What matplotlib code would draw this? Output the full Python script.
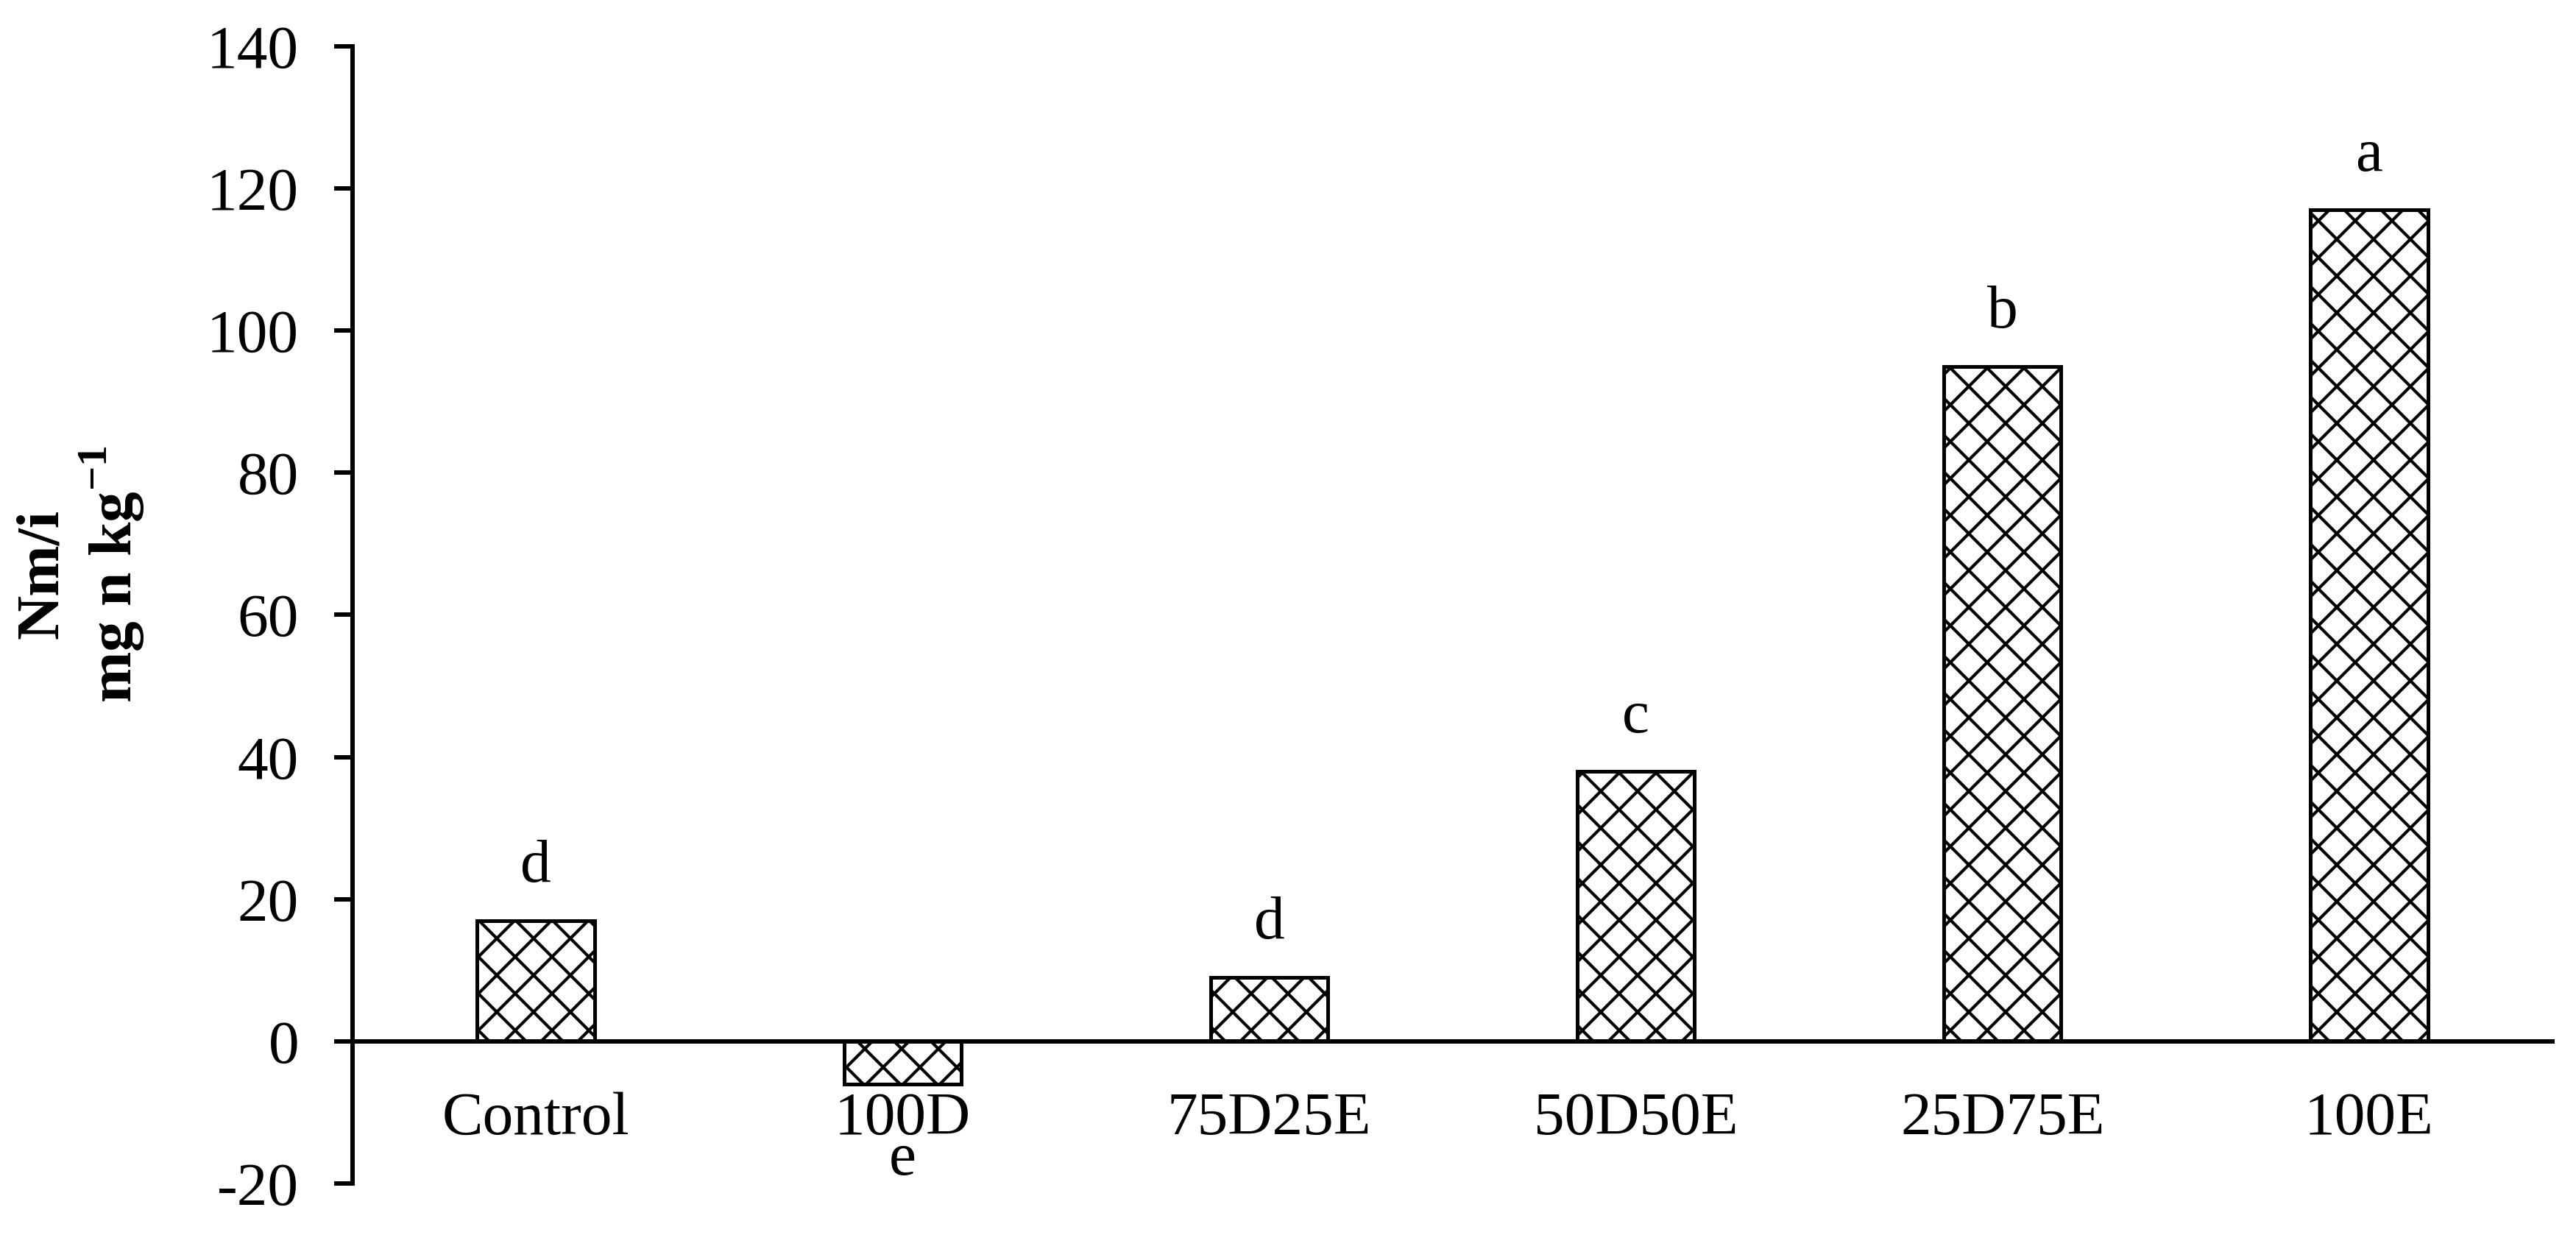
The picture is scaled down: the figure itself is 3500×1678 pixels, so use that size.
import numpy as np
import matplotlib
matplotlib.use("Agg")
import matplotlib.pyplot as plt

# data
treatments = ["Control", "100D", "75D25E", "50D50E", "25D75E", "100E"]
nmi = [17, -6, 9, 38, 95, 117]
letters = ["d", "e", "d", "c", "b", "a"]
y_ticks = [-20, 0, 20, 40, 60, 80, 100, 120, 140]

plt.rcParams["font.family"] = ["Liberation Serif", "DejaVu Serif"]
plt.rcParams["font.size"] = 40
plt.rcParams["axes.unicode_minus"] = False
plt.rcParams["mathtext.fontset"] = "custom"
plt.rcParams["mathtext.rm"] = "Liberation Serif"
plt.rcParams["mathtext.bf"] = "Liberation Serif:bold"
plt.rcParams["hatch.linewidth"] = 2.0
plt.rcParams["hatch.color"] = "black"

dpi = 150
fig = plt.figure(figsize=(3500 / dpi, 1678 / dpi), dpi=dpi)
ax = fig.add_axes([0.13686, 0.04172, 0.854, 0.92074])

x = np.arange(len(treatments))
ax.bar(x, nmi, width=0.32, color="white", edgecolor="black",
       linewidth=2.4, hatch="x", zorder=2)

# significance letters above/below bars
for xi, val, let in zip(x, nmi, letters):
    if val >= 0:
        ax.annotate(let, (xi, val), xytext=(0, 25.4), textcoords="offset points",
                    ha="center", va="baseline", fontsize=40)
    else:
        ax.annotate(let, (xi, val), xytext=(0, -59), textcoords="offset points",
                    ha="center", va="baseline", fontsize=40)

ax.set_xlim(-0.5, len(treatments) - 0.5)
ax.set_ylim(-20, 140)
ax.set_yticks(y_ticks)
ax.set_xticks(x)
ax.set_xticklabels(treatments)

ax.spines["top"].set_visible(False)
ax.spines["right"].set_visible(False)
ax.spines["bottom"].set_position(("data", 0))
ax.spines["bottom"].set_linewidth(2.9)
ax.spines["left"].set_linewidth(2.9)
ax.spines["bottom"].set_zorder(3)

ax.tick_params(axis="y", length=12, width=2.9, pad=23, labelsize=40)
ax.tick_params(axis="x", length=0, pad=33, labelsize=40)

fig.text(0.0314, 0.535, "Nm/i\nmg n kg$^{\\mathbf{-1}}$", rotation=90,
         ha="center", va="center", multialignment="center",
         fontsize=40, fontweight="bold", linespacing=1.15)

fig.savefig("out.png", dpi=dpi)
